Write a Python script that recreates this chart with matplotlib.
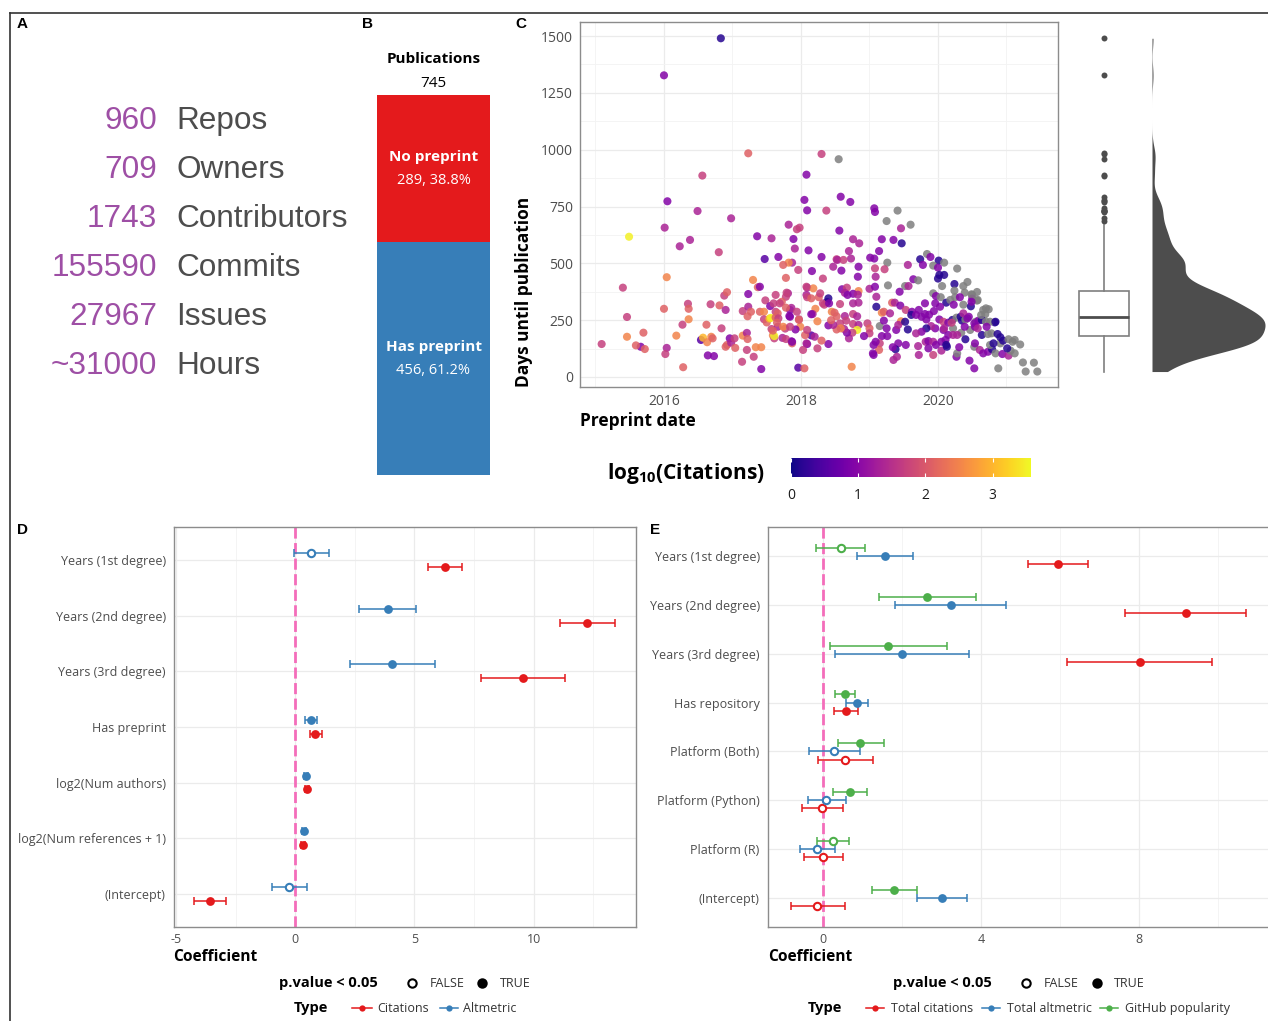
import numpy as np
import matplotlib.pyplot as plt
from matplotlib.lines import Line2D
from matplotlib.colors import Normalize
from matplotlib.ticker import FixedLocator

W, H = 1268, 1021
plt.rcParams['font.family'] = ['Open Sans', 'DejaVu Sans']
plt.rcParams['mathtext.fontset'] = 'custom'
plt.rcParams['mathtext.rm'] = 'Open Sans'
plt.rcParams['mathtext.bf'] = 'Open Sans:bold'

NA = np.nan

# ---- panel A: project totals
summary_counts = ['960', '709', '1743', '155590', '27967', '~31000']
summary_labels = ['Repos', 'Owners', 'Contributors', 'Commits', 'Issues', 'Hours']

# ---- panel B: publications with / without preprint
pub_groups = ['Has preprint', 'No preprint']
pub_counts = [456, 289]

# ---- panel C: preprint date vs days until publication
preprint_year = [
    2016.83, 2016.00, 2017.23, 2016.56, 2016.05, 2016.49, 2016.98, 2015.49, 2016.01, 2016.38,
    2016.23, 2016.80, 2017.36, 2017.57, 2017.47, 2017.67, 2015.40, 2016.04, 2015.46, 2016.00,
    2015.46, 2015.09, 2015.66, 2015.59, 2015.70, 2015.72, 2016.04, 2016.02, 2016.18, 2016.28,
    2016.27, 2016.35, 2016.36, 2016.36, 2016.54, 2016.57, 2016.62, 2016.68, 2016.63, 2016.64,
    2016.73, 2016.69, 2016.71, 2016.81, 2016.84, 2016.88, 2016.92, 2016.90, 2016.90, 2016.92,
    2016.96, 2016.98, 2017.03, 2017.04, 2017.14, 2017.15, 2017.15, 2017.21, 2017.22, 2017.21,
    2017.23, 2017.23, 2017.22, 2017.27, 2017.31, 2017.30, 2017.37, 2017.40, 2017.34, 2017.42,
    2017.42, 2017.40, 2017.46, 2017.46, 2017.50, 2017.48, 2017.54, 2017.55, 2017.57, 2017.60,
    2017.59, 2017.61, 2017.63, 2017.63, 2018.05, 2018.09, 2018.37, 2017.94, 2017.98, 2017.82,
    2017.89, 2017.91, 2018.11, 2018.30, 2017.96, 2017.87, 2017.82, 2017.74, 2018.16, 2018.32,
    2017.78, 2018.09, 2018.18, 2018.08, 2018.26, 2018.09, 2018.38, 2018.34, 2018.21, 2018.17,
    2018.24, 2018.40, 2017.97, 2017.84, 2017.99, 2017.92, 2018.15, 2018.20, 2018.06, 2018.09,
    2018.24, 2018.40, 2018.03, 2017.96, 2018.05, 2017.86, 2017.87, 2017.77, 2017.73, 2017.66,
    2017.61, 2017.59, 2017.84, 2017.86, 2017.81, 2017.78, 2017.72, 2017.66, 2017.56, 2017.63, 2017.67,
    2017.69, 2017.79, 2017.78, 2017.83, 2017.94, 2017.97, 2017.65, 2017.74, 2017.84,
    2017.78, 2017.87, 2018.08, 2018.09, 2018.15, 2018.08, 2018.15, 2018.28, 2018.32, 2018.40,
    2018.30, 2018.55, 2018.08, 2018.58, 2018.72, 2019.07, 2019.08, 2019.41, 2019.25, 2019.60,
    2019.46, 2018.56, 2018.76, 2018.85, 2019.18, 2019.35, 2019.47, 2018.70, 2019.14, 2019.01,
    2019.07, 2018.73, 2018.52, 2018.53, 2018.62, 2019.26, 2019.74, 2019.84, 2019.89, 2020.01,
    2020.09, 2019.78, 2019.93, 2020.00, 2020.28, 2019.56, 2018.47, 2018.59, 2018.84, 2018.83,
    2019.22, 2019.08, 2019.09, 2020.02, 2020.09, 2020.00, 2019.64, 2019.71, 2019.27, 2019.52,
    2019.57, 2020.06, 2020.24, 2020.37, 2020.43, 2018.60, 2018.67, 2018.84, 2019.00, 2019.08,
    2019.44, 2018.76, 2018.83, 2018.64, 2018.68, 2019.93, 2019.97, 2020.04, 2020.12, 2020.18,
    2020.25, 2020.39, 2020.49, 2020.57, 2020.50, 2020.57, 2020.32, 2019.10, 2018.41, 2018.57,
    2018.76, 2018.84, 2019.10, 2019.33, 2019.37, 2019.45, 2019.53, 2019.62, 2019.72, 2019.81,
    2019.96, 2020.03, 2020.23, 2020.37, 2020.48, 2020.66, 2020.74, 2020.69, 2019.18, 2019.21,
    2019.30, 2018.45, 2018.49, 2018.52, 2018.64, 2018.76, 2018.82, 2018.57, 2018.66, 2018.76,
    2018.84, 2018.97, 2019.00, 2019.15, 2019.21, 2019.25, 2019.39, 2019.46, 2019.42, 2019.52,
    2019.56, 2019.61, 2019.68, 2019.76, 2019.81, 2019.83, 2019.87, 2019.94, 2020.02, 2020.08,
    2020.15, 2020.21, 2020.27, 2020.33, 2020.35, 2020.40, 2020.45, 2020.55, 2020.59, 2020.64,
    2020.70, 2020.83, 2020.47, 2020.54, 2020.64, 2020.73, 2020.78, 2020.87, 2020.34, 2020.40,
    2020.28, 2020.22, 2020.15, 2020.08, 2019.96, 2019.90, 2019.83, 2019.76, 2019.68, 2019.82,
    2019.86, 2019.93, 2020.05, 2020.11, 2020.12, 2020.05, 2019.97, 2019.93, 2019.86, 2019.71,
    2019.72, 2019.53, 2019.42, 2019.38, 2019.34, 2019.40, 2019.35, 2019.26, 2019.18, 2019.15,
    2019.14, 2019.09, 2019.06, 2019.05, 2019.06, 2019.00, 2018.92, 2018.82, 2018.75, 2018.70,
    2018.67, 2018.63, 2018.58, 2018.52, 2018.47, 2018.44, 2018.30, 2018.74, 2020.27, 2020.46,
    2020.53, 2020.28, 2020.53, 2020.61, 2020.66, 2020.73, 2020.79, 2020.84, 2020.94, 2021.03,
    2020.91, 2020.95, 2021.03, 2021.09, 2021.12, 2021.20, 2021.06, 2021.12, 2021.01, 2020.88,
    2021.24, 2021.40, 2021.28, 2021.45, 2020.91, 2020.76, 2020.24, 2020.50, 2020.58, 2020.49,
    2020.70, 2020.63, 2020.76, 2020.84, 2020.31, 2020.54, 2020.13, 2020.22, 2020.09, 2020.20,
    2020.37, 2020.43, 2020.39, 2020.53, 2020.58, 2020.71, 2020.81,
]
days_until_pub = [
    1490, 1327, 984, 886, 773, 730, 698, 617, 657, 603,
    575, 549, 619, 610, 519, 528, 393, 439, 264, 300,
    177, 145, 133, 139, 195, 123, 128, 101, 182, 43,
    230, 322, 300, 254, 163, 173, 230, 320, 153, 95,
    92, 177, 170, 315, 214, 358, 373, 295, 133, 141,
    170, 151, 170, 128, 67, 182, 290, 194, 167, 119,
    309, 365, 267, 287, 89, 427, 395, 397, 131, 131,
    35, 287, 287, 254, 240, 337, 257, 312, 211, 324,
    183, 170, 361, 287, 779, 733, 732, 650, 657, 670,
    607, 565, 557, 528, 471, 503, 503, 493, 466, 433,
    436, 393, 390, 361, 351, 351, 330, 318, 300, 277,
    245, 227, 254, 265, 221, 209, 183, 177, 184, 145,
    126, 145, 119, 41, 38, 157, 148, 213, 172, 221,
    180, 204, 295, 304, 368, 353, 331, 280, 260, 262, 258,
    324, 371, 305, 268, 287, 251, 239, 221, 221,
    167, 155, 148, 207, 276, 397, 346, 368, 324, 346,
    981, 958, 890, 793, 770, 742, 726, 732, 686, 670,
    654, 644, 606, 588, 606, 603, 588, 554, 554, 525,
    521, 521, 518, 515, 515, 503, 518, 541, 528, 512,
    503, 493, 490, 481, 477, 493, 485, 468, 485, 441,
    474, 478, 441, 449, 449, 433, 430, 425, 403, 400,
    400, 400, 409, 400, 418, 386, 393, 378, 388, 397,
    375, 366, 362, 370, 361, 368, 356, 351, 327, 339,
    351, 371, 364, 374, 345, 336, 351, 353, 324, 321,
    324, 327, 309, 327, 327, 314, 295, 287, 295, 324,
    324, 309, 318, 318, 311, 295, 298, 276, 283, 287,
    280, 287, 283, 267, 268, 277, 267, 236, 248, 233,
    229, 236, 214, 224, 248, 214, 207, 245, 229, 243,
    209, 273, 273, 265, 277, 253, 274, 290, 253, 243,
    239, 251, 261, 265, 248, 253, 265, 243, 248, 251,
    243, 240, 207, 221, 185, 189, 192, 189, 195, 166,
    185, 214, 185, 207, 214, 224, 214, 199, 192, 155,
    158, 155, 155, 163, 141, 116, 141, 97, 126, 136,
    97, 141, 148, 122, 131, 89, 75, 180, 180, 148,
    119, 155, 141, 104, 97, 192, 180, 207, 195, 170,
    195, 211, 214, 209, 229, 250, 160, 45, 89, 72,
    38, 104, 133, 119, 104, 111, 122, 104, 101, 94,
    148, 160, 166, 155, 163, 143, 116, 104, 126, 38,
    64, 63, 24, 24, 175, 141, 380, 361, 339, 331,
    302, 273, 243, 243, 131, 148, 133, 185, 214, 239,
    280, 258, 221, 236, 214, 221, 148,
]
log_citations = [
    0.15, 0.95, 2.1, 1.7, 0.95, 1.35, 1.35, 3.5, 1.35, 1.35,
    1.35, 1.7, 0.95, 1.35, 0.55, 0.95, 1.7, 2.5, 1.7, 2.1,
    2.5, 1.7, 0.95, 2.1, 2.1, 2.1, 1.35, 1.7, 2.5, 2.1,
    1.7, 1.7, 2.1, 2.5, 0.55, 3.0, 2.1, 1.7, 2.5, 0.95,
    0.95, 2.5, 2.1, 2.1, 1.7, 1.7, 2.1, 1.35, 2.1, 2.1,
    0.95, 1.35, 1.7, 2.1, 1.7, 2.5, 1.7, 1.35, 2.1, 1.7,
    1.35, 0.95, 2.1, 2.1, 1.7, 2.5, 2.1, 0.95, 2.5, 2.5,
    0.95, 2.1, 2.5, 1.7, 2.1, 1.7, 3.0, 0.95, 1.7, 1.7,
    2.5, 1.7, 1.7, 1.7, 0.95, 0.95, 1.7, 1.7, 1.7, 1.35,
    0.95, 1.35, 0.95, 0.95, 1.7, 1.35, 2.5, 2.1, 0.95, 1.7,
    2.1, 1.35, 2.5, 1.35, 2.1, 1.7, 0.15, 1.7, 2.5, 1.35,
    2.5, 0.95, 1.7, 0.95, 2.5, 0.95, 0.55, 1.35, 2.1, 0.95,
    1.7, 0.95, 1.7, 0.55, 2.1, 0.95, 2.1, 1.7, 1.35, 1.35,
    3.5, 2.1, 0.95, 1.35, 1.35, 1.7, 2.1, 2.1, 3.5, 2.1, 1.7,
    1.7, 1.7, 2.1, 0.95, 1.7, 2.1, 2.1, 2.5, 1.7,
    1.7, 0.95, 1.35, 1.7, 0.95, 1.7, 2.1, 1.7, 1.7, 0.15,
    1.7, NA, 0.95, 0.95, 0.95, 0.95, 0.95, NA, NA, NA,
    1.35, 0.95, 1.35, 1.35, 0.95, 0.95, 0.15, 1.35, 0.95, 0.95,
    0.95, 1.35, 1.7, 1.35, 1.7, NA, 0.15, NA, 0.95, 0.15,
    NA, 0.95, NA, 0.95, NA, 1.35, 1.35, 0.95, 0.95, 0.95,
    1.7, 1.7, 1.35, 0.15, 0.15, 0.15, 0.95, NA, NA, NA,
    1.35, NA, 0.15, NA, NA, 0.95, 1.7, 2.5, 1.35, 0.95,
    0.95, 0.95, 1.35, 1.35, 0.95, NA, 0.95, NA, 0.15, NA,
    NA, NA, NA, NA, 0.95, NA, 0.95, 1.35, 0.95, 1.7,
    1.35, 1.35, 0.15, 2.1, 1.35, 0.95, 1.7, 0.95, 0.95, 0.95,
    0.95, 0.95, 0.95, NA, 0.15, NA, NA, NA, 2.5, 2.1,
    1.35, 2.5, 2.1, 2.1, 1.35, 1.7, 1.35, 1.7, 1.7, 1.7,
    1.35, 1.7, 2.1, NA, 0.95, 0.95, 0.95, 2.5, 1.35, 0.15,
    0.15, 0.15, 0.95, 0.95, 0.95, 0.95, 0.95, 0.95, 0.95, 1.7,
    0.95, 0.15, NA, 0.15, 0.15, NA, 0.95, NA, 0.95, 0.15,
    NA, 0.15, NA, 0.95, 0.15, NA, NA, 0.15, NA, 0.15,
    1.35, NA, 0.95, 0.95, 0.95, 1.35, 0.15, 0.95, 1.35, 1.35,
    0.95, 1.35, 0.95, 0.95, 0.15, 1.35, 0.95, 1.7, 0.95, 1.35,
    1.35, 0.95, 0.95, 0.15, 0.95, 1.35, 1.35, 0.95, 0.95, 1.7,
    2.1, 0.95, 0.95, 0.95, 0.95, 1.7, 0.95, 3.5, 1.7, 1.35,
    0.95, 1.35, 2.5, 2.1, 1.35, 2.1, 2.1, 2.5, 0.95, 0.95,
    0.95, NA, NA, 1.35, 0.95, 0.95, 0.15, NA, 0.95, 1.35,
    NA, 0.15, NA, NA, NA, NA, NA, NA, 0.15, NA,
    NA, NA, NA, NA, 0.15, NA, NA, NA, NA, 0.95,
    NA, NA, NA, 0.15, 0.95, 0.95, 0.15, 1.35, 1.35, 1.7,
    1.35, 0.95, 0.95, 0.95, 1.35, 0.95, 0.15,
]
citation_max = 3.57

# ---- panel D: publication-level regression
d_terms = ['Years (1st degree)', 'Years (2nd degree)', 'Years (3rd degree)', 'Has preprint',
           'log2(Num authors)', 'log2(Num references + 1)', '(Intercept)']
d_types = ['Citations', 'Altmetric']
d_est = {'Citations': [6.28, 12.26, 9.55, 0.84, 0.50, 0.34, -3.57],
         'Altmetric': [0.67, 3.88, 4.07, 0.65, 0.45, 0.36, -0.26]}
d_low = {'Citations': [5.57, 11.11, 7.80, 0.60, 0.42, 0.26, -4.24],
         'Altmetric': [-0.07, 2.68, 2.28, 0.39, 0.38, 0.29, -0.98]}
d_high = {'Citations': [7.00, 13.43, 11.32, 1.11, 0.58, 0.42, -2.90],
          'Altmetric': [1.41, 5.06, 5.85, 0.91, 0.52, 0.43, 0.48]}
d_signif = {'Citations': [True, True, True, True, True, True, True],
            'Altmetric': [False, True, True, True, True, True, False]}

# ---- panel E: repository-level regression
e_terms = ['Years (1st degree)', 'Years (2nd degree)', 'Years (3rd degree)', 'Has repository',
           'Platform (Both)', 'Platform (Python)', 'Platform (R)', '(Intercept)']
e_types = ['Total citations', 'Total altmetric', 'GitHub popularity']
e_est = {'Total citations': [5.95, 9.18, 8.02, 0.58, 0.57, -0.02, 0.01, -0.14],
         'Total altmetric': [1.58, 3.23, 2.01, 0.86, 0.28, 0.09, -0.14, 3.01],
         'GitHub popularity': [0.45, 2.63, 1.64, 0.55, 0.95, 0.69, 0.25, 1.80]}
e_low = {'Total citations': [5.19, 7.66, 6.19, 0.28, -0.12, -0.54, -0.48, -0.82],
         'Total altmetric': [0.87, 1.82, 0.30, 0.59, -0.35, -0.38, -0.59, 2.37],
         'GitHub popularity': [-0.17, 1.41, 0.17, 0.31, 0.37, 0.26, -0.14, 1.25]}
e_high = {'Total citations': [6.71, 10.71, 9.86, 0.89, 1.28, 0.50, 0.50, 0.55],
          'Total altmetric': [2.28, 4.64, 3.71, 1.14, 0.94, 0.59, 0.31, 3.64],
          'GitHub popularity': [1.06, 3.88, 3.13, 0.80, 1.54, 1.12, 0.67, 2.37]}
e_signif = {'Total citations': [True, True, True, True, False, False, False, False],
            'Total altmetric': [True, True, True, True, False, False, False, True],
            'GitHub popularity': [False, True, True, True, True, True, False, True]}

RED, BLUE, GREEN = '#E41A1C', '#377EB8', '#4DAF4A'
PURPLE = '#9E4FA5'
GRID = '#ebebeb'
BORDER = '#8c8c8c'
TICK = '#4d4d4d'


def rect(left, top, right, bottom):
    return [left / W, 1 - bottom / H, (right - left) / W, (bottom - top) / H]


def fx(x):
    return x / W


def fy(y):
    return 1 - y / H


def style_frame(ax):
    for s in ax.spines.values():
        s.set_color(BORDER)
        s.set_linewidth(1.0)
    ax.tick_params(which='both', length=0, colors=TICK)
    ax.set_axisbelow(True)


fig = plt.figure(figsize=(W / 100, H / 100), dpi=100)

# outer frame lines
fig.add_artist(Line2D([fx(10), 1], [fy(13), fy(13)], color='#333333', lw=1.2))
fig.add_artist(Line2D([fx(10), fx(10)], [fy(13), 0], color='#333333', lw=1.2))

for lab, x, y in [('A', 17, 24), ('B', 362, 24), ('C', 515, 24), ('D', 17, 530), ('E', 650, 530)]:
    fig.text(fx(x), fy(y), lab, fontsize=11, weight='bold', family='Liberation Sans',
             ha='left', va='center')

# ---- A
for i, (num, lab) in enumerate(zip(summary_counts, summary_labels)):
    base = fy(129.3 + 49 * i)
    fig.text(fx(157), base, num, ha='right', va='baseline', fontsize=22.7,
             color=PURPLE, family='Liberation Sans')
    fig.text(fx(176), base, lab, ha='left', va='baseline', fontsize=22.7,
             color='#4d4d4d', family='Liberation Sans')

# ---- B
axb = fig.add_axes(rect(377, 95, 490, 475))
total = sum(pub_counts)
bottoms = [0, pub_counts[0]]
for grp, n, b, col in zip(pub_groups, pub_counts, bottoms, [BLUE, RED]):
    axb.bar(0, n, bottom=b, width=1, color=col, edgecolor='none')
    mid = b + n / 2
    axb.annotate(grp, (0, mid), xytext=(0, 8.6), textcoords='offset points',
                 ha='center', va='center', color='white', weight='bold', fontsize=11)
    axb.annotate(f'{n}, {n / total * 100:.1f}%', (0, mid), xytext=(0, -8.6),
                 textcoords='offset points', ha='center', va='center',
                 color='white', fontsize=10.5)
axb.set_xlim(-0.5, 0.5)
axb.set_ylim(0, total)
axb.axis('off')
fig.text(fx(433.5), fy(63), 'Publications', ha='center', va='baseline',
         weight='bold', fontsize=11)
fig.text(fx(433.5), fy(87), f'{total}', ha='center', va='baseline', fontsize=11)

# ---- C
axc = fig.add_axes(rect(580, 22, 1058, 387))
cmap = plt.get_cmap('plasma').with_extremes(bad='#7f7f7f')
norm = Normalize(0, citation_max)
axc.scatter(preprint_year, days_until_pub, c=log_citations, cmap=cmap, norm=norm,
            s=34, alpha=0.85, linewidths=0, plotnonfinite=True, zorder=3)
axc.set_xlim(2014.774, 2021.752)
axc.set_ylim(-44, 1561.6)
axc.xaxis.set_major_locator(FixedLocator([2016, 2018, 2020]))
axc.xaxis.set_minor_locator(FixedLocator([2015, 2017, 2019, 2021]))
axc.yaxis.set_major_locator(FixedLocator(np.arange(0, 1501, 250)))
axc.yaxis.set_minor_locator(FixedLocator(np.arange(125, 1501, 250)))
axc.set_xticklabels(['2016', '2018', '2020'])
axc.grid(which='major', color=GRID, lw=0.9)
axc.grid(which='minor', color='#f3f3f3', lw=0.6)
style_frame(axc)
axc.tick_params(labelsize=10, pad=5)
fig.text(fx(580), fy(421), 'Preprint date', ha='left', va='center',
         weight='bold', fontsize=12.5)
fig.text(fx(524), fy(387), 'Days until publication', ha='center', va='bottom',
         rotation=90, weight='bold', fontsize=12.5)

# marginal box + density of days until publication
axm = fig.add_axes(rect(1068, 22, 1268, 387))
axm.set_xlim(0, 200)
axm.set_ylim(axc.get_ylim())
axm.axis('off')
days = np.asarray(days_until_pub, dtype=float)
axm.boxplot(days, positions=[36], widths=50, whis=1.5, showcaps=False,
            patch_artist=True, manage_ticks=False,
            boxprops=dict(facecolor='white', edgecolor='#7f7f7f', lw=1.2),
            whiskerprops=dict(color='#7f7f7f', lw=1.2),
            medianprops=dict(color='#4d4d4d', lw=2),
            flierprops=dict(marker='o', markersize=4.3, markerfacecolor='#4d4d4d',
                            markeredgecolor='none'))
bw = 0.9 * min(days.std(ddof=1), np.subtract(*np.percentile(days, [75, 25])) / 1.34) \
    * len(days) ** -0.2
grid_y = np.linspace(days.min(), days.max(), 500)
dens = np.exp(-0.5 * ((grid_y[:, None] - days[None, :]) / bw) ** 2).sum(axis=1)
dens = dens / dens.max() * 113
axm.fill_betweenx(grid_y, 84, 84 + dens, color='#4d4d4d', lw=0)

# colour bar
cax = fig.add_axes(rect(791, 458, 1031, 477))
sm = plt.cm.ScalarMappable(norm=norm, cmap=cmap)
cb = fig.colorbar(sm, cax=cax, orientation='horizontal', ticks=[0, 1, 2, 3])
cb.outline.set_visible(False)
cax.tick_params(axis='x', direction='in', length=2.8, width=0.8, color='white',
                top=True, labelsize=10, labelcolor='#1a1a1a', pad=8)
fig.text(fx(607), fy(474), r'$\mathbf{log_{10}(Citations)}$', ha='left', va='center',
         fontsize=15)


# ---- coefficient panels
def coef_panel(ax, terms, types, est, low, high, signif, colors, offsets):
    n = len(terms)
    ypos = n - np.arange(n)
    for t, col, off in zip(types, colors, offsets):
        e = np.array(est[t])
        lo = np.array(low[t])
        hi = np.array(high[t])
        y = ypos + off
        ax.errorbar(e, y, xerr=[e - lo, hi - e], fmt='none', ecolor=col,
                    elinewidth=1.1, capsize=3, capthick=1.1, zorder=3)
        sig = np.array(signif[t])
        ax.scatter(e[sig], y[sig], s=40, color=col, linewidths=0, zorder=4)
        ax.scatter(e[~sig], y[~sig], s=28, facecolor='white', edgecolor=col,
                   linewidths=1.5, zorder=4)
    ax.axvline(0, color='#F46DBA', lw=2, dashes=(4, 1.6), zorder=2)
    ax.set_ylim(0.4, n + 0.6)
    ax.set_yticks(ypos)
    ax.set_yticklabels(terms)
    ax.grid(which='major', color=GRID, lw=0.9)
    ax.grid(which='minor', axis='x', color='#f3f3f3', lw=0.6)
    style_frame(ax)
    ax.tick_params(labelsize=9)
    ax.tick_params(axis='y', pad=6)
    ax.tick_params(axis='x', pad=4)


axd = fig.add_axes(rect(174, 527, 636, 927))
coef_panel(axd, d_terms, d_types, d_est, d_low, d_high, d_signif,
           [RED, BLUE], [-0.125, 0.125])
axd.set_xlim(-5.09, 14.3)
axd.xaxis.set_major_locator(FixedLocator([-5, 0, 5, 10]))
axd.xaxis.set_minor_locator(FixedLocator([-2.5, 2.5, 7.5, 12.5]))
axd.set_xticklabels(['-5', '0', '5', '10'])

axe = fig.add_axes(rect(768, 527, 1276, 927))
coef_panel(axe, e_terms, e_types, e_est, e_low, e_high, e_signif,
           [RED, BLUE, GREEN], [-0.167, 0.0, 0.167])
axe.set_xlim(-1.39, 11.47)
axe.xaxis.set_major_locator(FixedLocator([0, 4, 8]))
axe.xaxis.set_minor_locator(FixedLocator([2, 6, 10]))
axe.set_xticklabels(['0', '4', '8'])

for x in (173, 768):
    fig.text(fx(x), fy(957), 'Coefficient', ha='left', va='center',
             weight='bold', fontsize=11.2)


# ---- legends below the coefficient panels
def point_key(x, y, filled):
    fig.add_artist(Line2D([fx(x)], [fy(y)], marker='o', ms=6,
                          mfc='black' if filled else 'white', mec='black', mew=1.5))


def type_key(x0, x1, y, col):
    fig.add_artist(Line2D([fx(x0), fx(x1)], [fy(y), fy(y)], color=col, lw=1.1))
    fig.add_artist(Line2D([fx((x0 + x1) / 2)], [fy(y)], marker='o', ms=4.5,
                          mfc=col, mec='none'))


def legend_text(x, y, s, bold=False):
    fig.text(fx(x), fy(y), s, ha='left', va='center', fontsize=10.5 if bold else 9,
             weight='bold' if bold else 'normal', color='black' if bold else '#333333')


# D legend
legend_text(279, 983, 'p.value < 0.05', bold=True)
point_key(412, 983, False)
legend_text(430, 983, 'FALSE')
point_key(482, 983, True)
legend_text(500, 983, 'TRUE')
legend_text(294, 1008, 'Type', bold=True)
for (x0, x1, xt), t, col in zip([(352, 372, 377), (440, 458, 463)], d_types, [RED, BLUE]):
    type_key(x0, x1, 1008, col)
    legend_text(xt, 1008, t)

# E legend
legend_text(893, 983, 'p.value < 0.05', bold=True)
point_key(1026, 983, False)
legend_text(1044, 983, 'FALSE')
point_key(1097, 983, True)
legend_text(1114, 983, 'TRUE')
legend_text(808, 1008, 'Type', bold=True)
for (x0, x1, xt), t, col in zip([(866, 884, 891), (982, 1000, 1007), (1100, 1118, 1125)],
                                e_types, [RED, BLUE, GREEN]):
    type_key(x0, x1, 1008, col)
    legend_text(xt, 1008, t)

fig.savefig('out.png', dpi=100)
